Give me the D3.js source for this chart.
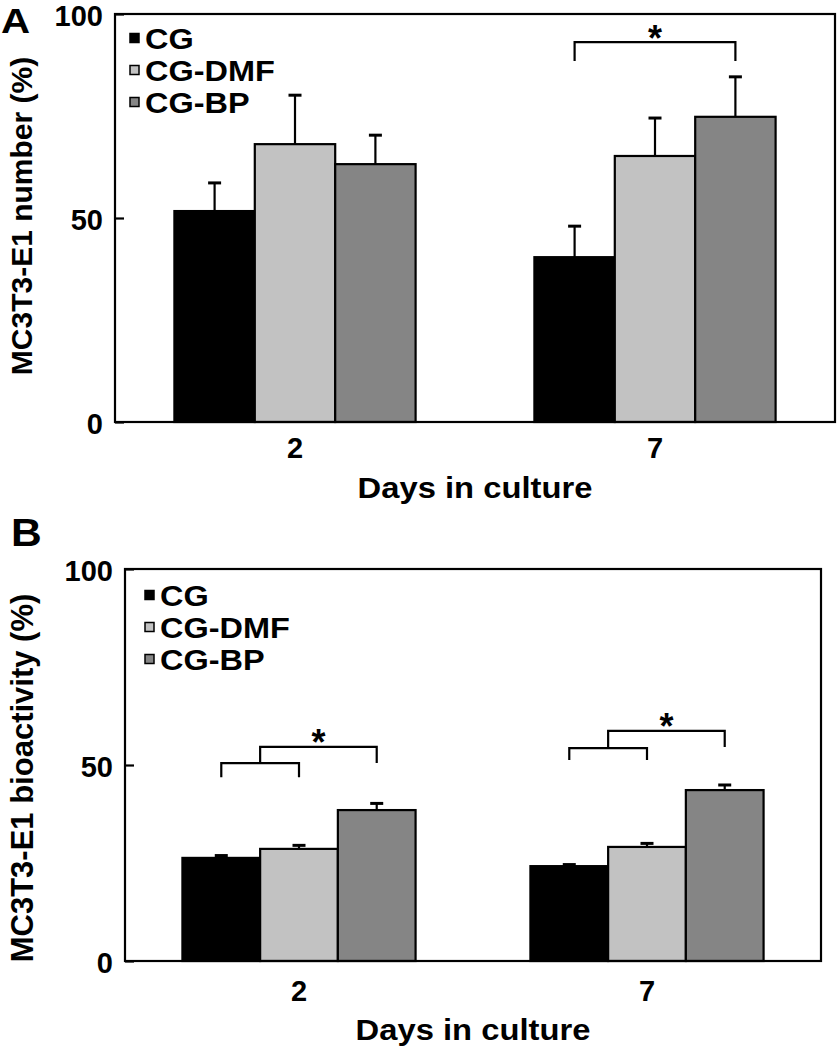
<!DOCTYPE html>
<html>
<head>
<meta charset="utf-8">
<script src="https://cdn.jsdelivr.net/npm/d3@7"></script>
<style>
  html, body { margin: 0; padding: 0; background: #fff; }
  svg text { font-family: "Liberation Sans", Arial, sans-serif; font-weight: bold; fill: #000; }
</style>
</head>
<body>
<svg id="chart" width="839" height="1050"></svg>
<script>
// ---------- data ----------
const days = ["2", "7"];
const series = ["CG", "CG-DMF", "CG-BP"];
const seriesColors = ["#000000", "#c2c2c2", "#858585"];
const yTicks = [0, 50, 100];

// Panel A: MC3T3-E1 number (%)
const numberMean = { "2": [51.7, 68.1, 63.2], "7": [40.4, 65.2, 74.8] };
const numberErr  = { "2": [6.9, 12.0, 7.1],  "7": [7.6, 9.3, 9.8] };
// Panel B: MC3T3-E1 bioactivity (%)
const bioMean = { "2": [26.3, 28.6, 38.5], "7": [24.2, 29.1, 43.6] };
const bioErr  = { "2": [0.6, 0.9, 1.7],   "7": [0.4, 0.9, 1.3] };

// significance brackets (data units)
const bracketsA = [
  { day: "7", from: "CG", to: "CG-BP", level: 93.1, leg: 88.5, label: "*" }
];
const bracketsB = [
  { day: "2", lowFrom: "CG", lowTo: "CG-DMF", lowLevel: 50.5, lowLeg: 46.9,
    to: "CG-BP", level: 54.6, leg: 50.5, label: "*" },
  { day: "7", lowFrom: "CG", lowTo: "CG-DMF", lowLevel: 54.3, lowLeg: 51.3,
    to: "CG-BP", level: 58.7, leg: 54.6, label: "*" }
];

const svg = d3.select("#chart");

// text with horizontal stretch
function wideText(g, x, y, str, size, sx, anchor) {
  return g.append("text")
    .attr("transform", `translate(${x},${y}) scale(${sx},1)`)
    .attr("text-anchor", anchor || "start")
    .style("font-size", size + "px").text(str);
}

function panel(cfg) {
  const { left, right, top, bottom, mean, err, yTitle, letter } = cfg;
  const g = svg.append("g");

  const x = d3.scaleBand().domain(days).range([left, right]).padding(0);
  const bw = x.bandwidth();
  const xs = d3.scaleBand().domain(series).range([bw * 0.165, bw * 0.835]).padding(0);
  const y = d3.scaleLinear().domain([0, 100]).range([bottom, top]);
  const color = d3.scaleOrdinal().domain(series).range(seriesColors);

  const rows = [];
  days.forEach(d => series.forEach((s, i) => rows.push({ day: d, s, v: mean[d][i], e: err[d][i] })));

  // error bars (upper only)
  const eb = g.append("g");
  rows.forEach(r => {
    const cx = x(r.day) + xs(r.s) + xs.bandwidth() / 2;
    eb.append("line").attr("x1", cx).attr("x2", cx)
      .attr("y1", y(r.v)).attr("y2", y(r.v + r.e))
      .attr("stroke", "#000").attr("stroke-width", 2.2);
    eb.append("line").attr("x1", cx - 6.5).attr("x2", cx + 6.5)
      .attr("y1", y(r.v + r.e)).attr("y2", y(r.v + r.e))
      .attr("stroke", "#000").attr("stroke-width", 3);
  });

  // bars
  g.append("g").selectAll("rect").data(rows).join("rect")
    .attr("x", r => x(r.day) + xs(r.s))
    .attr("y", r => y(r.v))
    .attr("width", xs.bandwidth())
    .attr("height", r => y(0) - y(r.v))
    .attr("fill", r => color(r.s))
    .attr("stroke", "#000").attr("stroke-width", 2.2);

  // frame
  g.append("rect").attr("x", left).attr("y", top)
    .attr("width", right - left).attr("height", bottom - top)
    .attr("fill", "none").attr("stroke", "#000").attr("stroke-width", 2.2);

  // y axis (inward ticks)
  const ya = g.append("g").attr("transform", `translate(${left},0)`)
    .call(d3.axisLeft(y).tickValues(yTicks).tickSizeInner(-9).tickSizeOuter(0).tickPadding(12));
  ya.select(".domain").remove();
  ya.selectAll(".tick line").attr("stroke", "#000").attr("stroke-width", 2.2);
  ya.selectAll(".tick text").style("font-size", "29px").attr("font-family", null).attr("dy", "0.4em");

  // x axis
  const xa = g.append("g").attr("transform", `translate(0,${bottom})`)
    .call(d3.axisBottom(x).tickSize(0).tickPadding(cfg.xPad));
  xa.select(".domain").remove();
  xa.selectAll(".tick text").style("font-size", "29px").attr("font-family", null);

  // titles
  wideText(g, (left + right) / 2, cfg.xTitleY, "Days in culture", 29, 1.13, "middle");
  g.append("text")
    .attr("transform", `translate(${cfg.yTitleX},${cfg.yTitleCY}) rotate(-90)`)
    .attr("text-anchor", "middle").style("font-size", cfg.yTitleSize + "px")
    .text(yTitle);
  wideText(g, cfg.letterX, cfg.letterY, letter, cfg.letterSize, 1.12, "start");

  // legend
  const lg = g.append("g");
  series.forEach((s, i) => {
    const cy = cfg.legY + i * 32;
    lg.append("rect").attr("x", cfg.legX).attr("y", cy - 4.5).attr("width", 9).attr("height", 9)
      .attr("fill", color(s)).attr("stroke", "#000").attr("stroke-width", 1.5);
    wideText(lg, cfg.legX + 15, cy + 10.5, s, 29, 1.12, "start");
  });

  return { g, x, xs, y, center: (d, s) => x(d) + xs(s) + xs.bandwidth() / 2 };
}

function bracketPath(g, pts) {
  g.append("path").attr("d", d3.line()(pts))
    .attr("fill", "none").attr("stroke", "#000").attr("stroke-width", 2.2);
}
function star(g, cx, yTop, off) {
  g.append("text").attr("x", cx).attr("y", yTop + off)
    .attr("text-anchor", "middle").style("font-size", "36px").text("*");
}

// ---------- Panel A ----------
const A = panel({
  left: 115, right: 835, top: 14, bottom: 422,
  mean: numberMean, err: numberErr,
  yTitle: "MC3T3-E1 number (%)", letter: "A",
  xPad: 15, xTitleY: 498, yTitleX: 32, yTitleCY: 216, yTitleSize: 30,
  letterX: 1, letterY: 33, letterSize: 36, legX: 130, legY: 38
});
bracketsA.forEach(b => {
  const x1 = A.center(b.day, b.from), x2 = A.center(b.day, b.to);
  bracketPath(A.g, [[x1, A.y(b.leg)], [x1, A.y(b.level)], [x2, A.y(b.level)], [x2, A.y(b.leg)]]);
  star(A.g, (x1 + x2) / 2, A.y(b.level), 9);
});

// ---------- Panel B ----------
const B = panel({
  left: 125, right: 821, top: 569, bottom: 961,
  mean: bioMean, err: bioErr,
  yTitle: "MC3T3-E1 bioactivity (%)", letter: "B",
  xPad: 19, xTitleY: 1040, yTitleX: 33, yTitleCY: 778, yTitleSize: 31,
  letterX: 11, letterY: 546, letterSize: 38, legX: 145, legY: 595
});
bracketsB.forEach(b => {
  const a1 = B.center(b.day, b.lowFrom), a2 = B.center(b.day, b.lowTo);
  bracketPath(B.g, [[a1, B.y(b.lowLeg)], [a1, B.y(b.lowLevel)], [a2, B.y(b.lowLevel)], [a2, B.y(b.lowLeg)]]);
  const m = (a1 + a2) / 2, x2 = B.center(b.day, b.to);
  bracketPath(B.g, [[m, B.y(b.lowLevel)], [m, B.y(b.level)], [x2, B.y(b.level)], [x2, B.y(b.leg)]]);
  star(B.g, (m + x2) / 2, B.y(b.level), 8);
});
</script>
</body>
</html>
